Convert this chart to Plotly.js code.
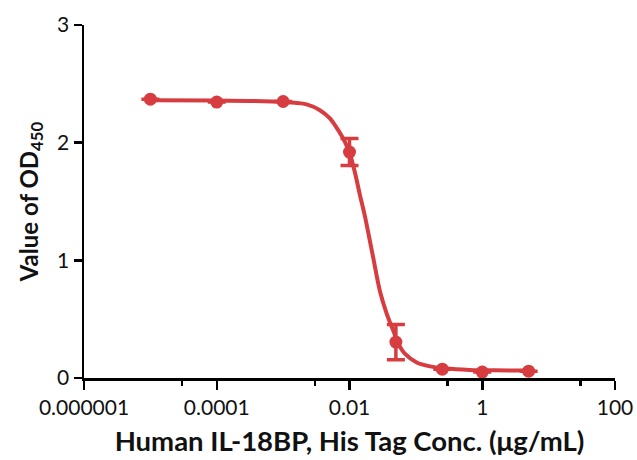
<!DOCTYPE html>
<html>
<head>
<meta charset="utf-8">
<script src="https://cdn.plot.ly/plotly-3.0.1.min.js"></script>
<style>html,body{margin:0;padding:0;background:#fff;}#chart{width:637px;height:460px;}</style>
</head>
<body>
<div id="chart"></div>
<script>
// Measured points (concentration in µg/mL, OD450)
const conc = [0.00001, 0.0001, 0.001, 0.01, 0.05, 0.25, 1, 5];
const od = [2.37, 2.345, 2.35, 1.92, 0.305, 0.075, 0.05, 0.058];
const odErr = [0, 0, 0, 0.115, 0.15, 0, 0, 0];

// Fitted curve
const fitX = [0.00001, 0.0001, 0.0005, 0.00126, 0.00226, 0.00358, 0.00507, 0.00676, 0.00853, 0.0101, 0.012, 0.0143, 0.017, 0.0191, 0.0228, 0.0287, 0.0362, 0.0455, 0.0541, 0.0683, 0.103, 0.163, 0.29, 0.65, 1.5, 5];
const fitY = [2.36, 2.358, 2.352, 2.342, 2.325, 2.276, 2.206, 2.106, 2.007, 1.908, 1.752, 1.56, 1.38, 1.24, 1.02, 0.74, 0.55, 0.405, 0.295, 0.207, 0.132, 0.099, 0.08, 0.069, 0.065, 0.064];

// Axis ticks
const xTickVals = [0.000001, 0.0001, 0.01, 1, 100];
const xTickText = ['0.000001', '0.0001', '0.01', '1', '100'];
const xMinorVals = [0.00003, 0.003, 0.3, 30];
const yTickVals = [0, 1, 2, 3];

const red = 'rgb(214,60,64)';
const font = 'Lato, "Open Sans", sans-serif';

const traces = [
  {
    x: fitX, y: fitY, type: 'scatter', mode: 'lines',
    line: {color: red, width: 4, shape: 'spline', smoothing: 0.8},
    hoverinfo: 'skip', showlegend: false
  },
  {
    x: conc, y: od, type: 'scatter', mode: 'markers',
    marker: {color: red, size: 13},
    error_y: {type: 'data', array: odErr, visible: true, color: red, thickness: 3.5, width: 9},
    showlegend: false
  }
];

const layout = {
  width: 637, height: 460,
  margin: {l: 84, r: 22, t: 25, b: 82},
  paper_bgcolor: '#fff', plot_bgcolor: '#fff',
  font: {family: font, color: '#111'},
  showlegend: false,
  xaxis: {
    type: 'log',
    range: [-6, 2],
    tickmode: 'array', tickvals: xTickVals, ticktext: xTickText,
    ticks: 'outside', ticklen: 9, tickwidth: 2.5, tickcolor: '#000',
    tickfont: {family: font, size: 21, color: '#111'},
    minor: {tickmode: 'array', tickvals: xMinorVals, ticks: 'outside', ticklen: 5, tickwidth: 2.5, tickcolor: '#000', showgrid: false},
    showline: true, linecolor: '#000', linewidth: 2.5,
    showgrid: false, zeroline: false,
    title: {text: '<b>Human IL-18BP, His Tag Conc. (μg/mL)</b>', font: {family: font, size: 27.5, color: '#111'}, standoff: 14}
  },
  yaxis: {
    range: [0, 3],
    tickmode: 'array', tickvals: yTickVals,
    ticks: 'outside', ticklen: 8, tickwidth: 2.5, tickcolor: '#000',
    tickfont: {family: font, size: 21, color: '#111'},
    showline: true, linecolor: '#000', linewidth: 2.5,
    showgrid: false, zeroline: false,
    title: {text: '<b>Value of OD<sub>450</sub></b>', font: {family: font, size: 24, color: '#111'}, standoff: 12}
  }
};

Plotly.newPlot('chart', traces, layout, {displayModeBar: false, staticPlot: true});
</script>
</body>
</html>
